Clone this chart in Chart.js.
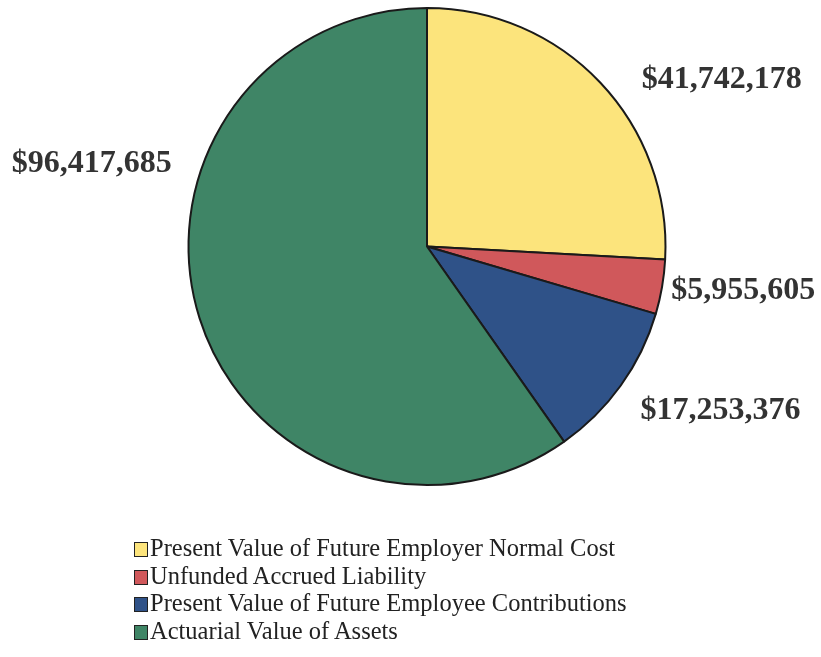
<!DOCTYPE html>
<html>
<head>
<meta charset="utf-8">
<script src="https://cdn.jsdelivr.net/npm/chart.js@4/dist/chart.umd.min.js"></script>
<style>
  html, body { margin: 0; padding: 0; background: #fff; }
  #wrap { position: relative; width: 821px; height: 657px; }
  #legend { position: absolute; left: 134px; top: 534px; font-family: "Liberation Serif", "Times New Roman", serif; font-size: 24.5px; color: #222; line-height: 27.5px; }
  #legend div { white-space: nowrap; }
  #legend span { display: inline-block; width: 12px; height: 13px; border: 1.5px solid #222; margin-right: 2px; vertical-align: -1px; }
</style>
</head>
<body>
<div id="wrap">
  <canvas id="pie" width="821" height="657"></canvas>
  <div id="legend"></div>
</div>
<script>
var categories = [
  'Present Value of Future Employer Normal Cost',
  'Unfunded Accrued Liability',
  'Present Value of Future Employee Contributions',
  'Actuarial Value of Assets'
];
var amounts = [41742178, 5955605, 17253376, 96417685];
var sliceColors = ['#fce47c', '#d0585b', '#2f5288', '#3f8566'];

// where along each slice the value label hangs, and how far out
var labelSpot = [0.56, 0.53, 0.55, 0.665];
var labelReach = [1.14, 1.04, 1.13, 1.125];

function money(v) {
  return '$' + v.toLocaleString('en-US');
}

var outsideLabels = {
  id: 'outsideLabels',
  afterDatasetsDraw: function(chart) {
    var ctx = chart.ctx;
    var meta = chart.getDatasetMeta(0);
    ctx.save();
    ctx.font = 'bold 32px "Liberation Serif", "Times New Roman", serif';
    ctx.fillStyle = '#333';
    ctx.textBaseline = 'middle';
    meta.data.forEach(function(arc, i) {
      var ang = arc.startAngle + (arc.endAngle - arc.startAngle) * labelSpot[i];
      var r = arc.outerRadius * labelReach[i];
      var x = arc.x + Math.cos(ang) * r;
      var y = arc.y + Math.sin(ang) * r;
      ctx.textAlign = Math.cos(ang) >= 0 ? 'left' : 'right';
      ctx.fillText(money(chart.data.datasets[0].data[i]), x, y);
    });
    ctx.restore();
  }
};

new Chart(document.getElementById('pie'), {
  type: 'pie',
  data: {
    labels: categories,
    datasets: [{
      data: amounts,
      backgroundColor: sliceColors,
      borderColor: '#1a1a1a',
      borderWidth: 2
    }]
  },
  options: {
    responsive: false,
    animation: false,
    layout: { padding: { top: 7, bottom: 171, left: 33, right: 0 } },
    plugins: {
      legend: { display: false },
      tooltip: { enabled: false }
    }
  },
  plugins: [outsideLabels]
});

var legendElem = document.getElementById('legend');
categories.forEach(function(name, i) {
  var row = document.createElement('div');
  row.innerHTML = '<span style="background:' + sliceColors[i] + '"></span>' + name;
  legendElem.appendChild(row);
});
</script>
</body>
</html>
